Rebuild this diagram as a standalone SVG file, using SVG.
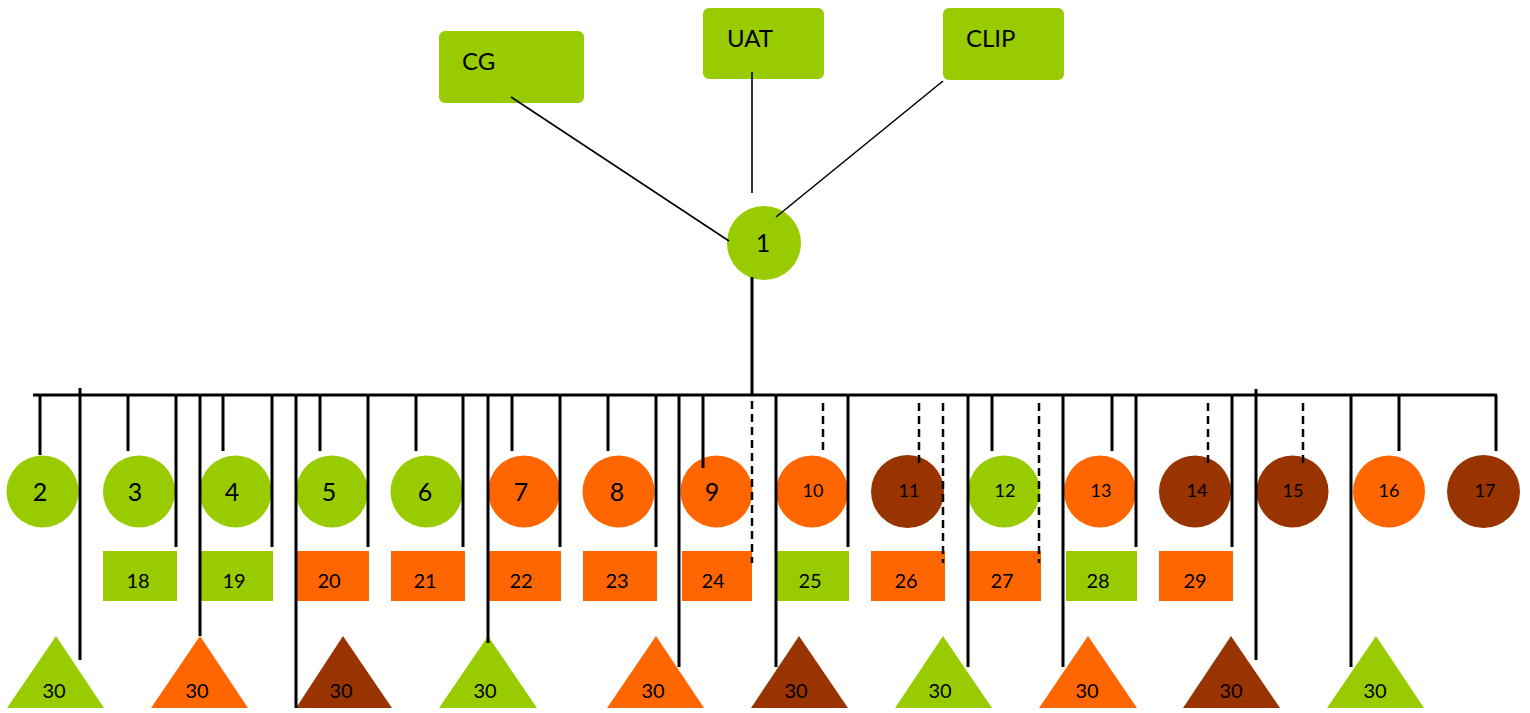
<svg xmlns="http://www.w3.org/2000/svg" width="1530" height="713" viewBox="0 0 1530 713">
<style>
.g{fill:#99CC00}.o{fill:#FF6600}.b{fill:#993300}
text{font-family:Lato,"Liberation Sans",sans-serif;fill:#000;text-anchor:middle}
.big{font-size:25px}.sm{font-size:18px}.rl{font-size:20px}.tl{font-size:20px}.hd{font-size:24px;text-anchor:start}
.c line{stroke:#000;stroke-width:3}
.c line.th{stroke-width:1.6}
.c line.d{stroke-width:2.5;stroke-dasharray:8 5}
</style>
<rect width="1530" height="713" fill="#fff"/>
<g id="n-cg"><rect class="g" x="439" y="31" width="145" height="72" rx="6"/><text class="hd" x="462" y="70">CG</text></g>
<g id="n-uat"><rect class="g" x="703" y="8" width="121" height="71" rx="6"/><text class="hd" x="727" y="47">UAT</text></g>
<g id="n-clip"><rect class="g" x="943" y="8" width="121" height="72" rx="6"/><text class="hd" x="966" y="47">CLIP</text></g>
<g id="n1"><circle class="g" cx="764" cy="243" r="37"/><text class="big" x="763" y="252">1</text></g>
<g id="n2"><circle class="g" cx="42.5" cy="491.5" r="36"/><text class="big" x="40" y="501">2</text></g>
<g id="n3"><circle class="g" cx="139" cy="491.5" r="36"/><text class="big" x="135" y="501">3</text></g>
<g id="n4"><circle class="g" cx="235.5" cy="491.5" r="36"/><text class="big" x="232" y="501">4</text></g>
<g id="n5"><circle class="g" cx="332" cy="491.5" r="36"/><text class="big" x="329" y="501">5</text></g>
<g id="n6"><circle class="g" cx="426.5" cy="491.5" r="36"/><text class="big" x="425" y="501">6</text></g>
<g id="n7"><circle class="o" cx="524" cy="491.5" r="36"/><text class="big" x="521" y="501">7</text></g>
<g id="n8"><circle class="o" cx="618.5" cy="491.5" r="36"/><text class="big" x="617" y="501">8</text></g>
<g id="n9"><circle class="o" cx="716.5" cy="491.5" r="36"/><text class="big" x="712" y="501">9</text></g>
<g id="n10"><circle class="o" cx="812" cy="491.5" r="36"/><text class="sm" x="813" y="497">10</text></g>
<g id="n11"><circle class="b" cx="907.5" cy="491.5" r="36.5"/><text class="sm" x="909" y="497">11</text></g>
<g id="n12"><circle class="g" cx="1004" cy="491.5" r="36"/><text class="sm" x="1005" y="497">12</text></g>
<g id="n13"><circle class="o" cx="1100" cy="491.5" r="36"/><text class="sm" x="1101" y="497">13</text></g>
<g id="n14"><circle class="b" cx="1195" cy="491.5" r="36"/><text class="sm" x="1197" y="497">14</text></g>
<g id="n15"><circle class="b" cx="1292.5" cy="491.5" r="36"/><text class="sm" x="1293" y="497">15</text></g>
<g id="n16"><circle class="o" cx="1389" cy="491.5" r="36"/><text class="sm" x="1389" y="497">16</text></g>
<g id="n17"><circle class="b" cx="1483.5" cy="491.5" r="36.5"/><text class="sm" x="1485" y="497">17</text></g>
<g id="n18"><rect class="g" x="103" y="551" width="74" height="50"/><text class="rl" x="138" y="588">18</text></g>
<g id="n19"><rect class="g" x="201" y="551" width="72" height="50"/><text class="rl" x="234" y="588">19</text></g>
<g id="n20"><rect class="o" x="297" y="551" width="72" height="50"/><text class="rl" x="329" y="588">20</text></g>
<g id="n21"><rect class="o" x="391" y="551" width="74" height="50"/><text class="rl" x="425" y="588">21</text></g>
<g id="n22"><rect class="o" x="489" y="551" width="72" height="50"/><text class="rl" x="521" y="588">22</text></g>
<g id="n23"><rect class="o" x="583" y="551" width="74" height="50"/><text class="rl" x="617" y="588">23</text></g>
<g id="n24"><rect class="o" x="682" y="551" width="70" height="50"/><text class="rl" x="713" y="588">24</text></g>
<g id="n25"><rect class="g" x="777" y="551" width="72" height="50"/><text class="rl" x="810" y="588">25</text></g>
<g id="n26"><rect class="o" x="871" y="551" width="74" height="50"/><text class="rl" x="906" y="588">26</text></g>
<g id="n27"><rect class="o" x="969" y="551" width="72" height="50"/><text class="rl" x="1002" y="588">27</text></g>
<g id="n28"><rect class="g" x="1066" y="551" width="71" height="50"/><text class="rl" x="1098" y="588">28</text></g>
<g id="n29"><rect class="o" x="1159" y="551" width="74" height="50"/><text class="rl" x="1195" y="588">29</text></g>
<g id="t1"><polygon class="g" points="56,636 104,708 7,708"/><text class="tl" x="54" y="698">30</text></g>
<g id="t2"><polygon class="o" points="200,636 248,708 151,708"/><text class="tl" x="197" y="698">30</text></g>
<g id="t3"><polygon class="b" points="343,636 392,708 296,708"/><text class="tl" x="341" y="698">30</text></g>
<g id="t4"><polygon class="g" points="488,636 537,708 439,708"/><text class="tl" x="485" y="698">30</text></g>
<g id="t5"><polygon class="o" points="656,636 704,708 607,708"/><text class="tl" x="653" y="698">30</text></g>
<g id="t6"><polygon class="b" points="799,636 848,708 751,708"/><text class="tl" x="796" y="698">30</text></g>
<g id="t7"><polygon class="g" points="943,636 992,708 895,708"/><text class="tl" x="940" y="698">30</text></g>
<g id="t8"><polygon class="o" points="1088,636 1137,708 1039,708"/><text class="tl" x="1087" y="698">30</text></g>
<g id="t9"><polygon class="b" points="1231,636 1280,708 1183,708"/><text class="tl" x="1231" y="698">30</text></g>
<g id="t10"><polygon class="g" points="1376,636 1424,708 1327,708"/><text class="tl" x="1375" y="698">30</text></g>
<g id="connectors" class="c">
<line class="th" x1="511" y1="97" x2="729" y2="241"/>
<line class="th" x1="752" y1="72" x2="752" y2="193"/>
<line class="th" x1="943" y1="81" x2="776" y2="217"/>
<line x1="752" y1="277" x2="752" y2="396"/>
<line x1="33" y1="395" x2="1497" y2="395"/>
<line x1="40" y1="395" x2="40" y2="455"/>
<line x1="128" y1="395" x2="128" y2="451"/>
<line x1="223" y1="395" x2="223" y2="451"/>
<line x1="320" y1="395" x2="320" y2="451"/>
<line x1="416" y1="395" x2="416" y2="451"/>
<line x1="512" y1="395" x2="512" y2="451"/>
<line x1="608" y1="395" x2="608" y2="451"/>
<line x1="703" y1="395" x2="703" y2="468"/>
<line x1="992" y1="395" x2="992" y2="451"/>
<line x1="1112" y1="395" x2="1112" y2="451"/>
<line x1="1399" y1="395" x2="1399" y2="451"/>
<line x1="1496" y1="395" x2="1496" y2="451"/>
<line x1="176" y1="395" x2="176" y2="547"/>
<line x1="272" y1="395" x2="272" y2="547"/>
<line x1="368" y1="395" x2="368" y2="547"/>
<line x1="463" y1="395" x2="463" y2="547"/>
<line x1="560" y1="395" x2="560" y2="547"/>
<line x1="656" y1="395" x2="656" y2="547"/>
<line x1="848" y1="395" x2="848" y2="547"/>
<line x1="1136" y1="395" x2="1136" y2="547"/>
<line x1="1232" y1="395" x2="1232" y2="547"/>
<line x1="80" y1="388" x2="80" y2="660"/>
<line x1="200" y1="395" x2="200" y2="636"/>
<line x1="296" y1="395" x2="296" y2="708"/>
<line x1="488" y1="395" x2="488" y2="643"/>
<line x1="679" y1="395" x2="679" y2="667"/>
<line x1="776" y1="395" x2="776" y2="667"/>
<line x1="968" y1="395" x2="968" y2="667"/>
<line x1="1063" y1="395" x2="1063" y2="667"/>
<line x1="1256" y1="389" x2="1256" y2="660"/>
<line x1="1351" y1="395" x2="1351" y2="667"/>
<line class="d" x1="752" y1="401" x2="752" y2="563"/>
<line class="d" x1="823" y1="403" x2="823" y2="451"/>
<line class="d" x1="919" y1="403" x2="919" y2="468"/>
<line class="d" x1="943" y1="403" x2="943" y2="563"/>
<line class="d" x1="1039" y1="403" x2="1039" y2="563"/>
<line class="d" x1="1208" y1="403" x2="1208" y2="468"/>
<line class="d" x1="1303" y1="403" x2="1303" y2="468"/>
</g>
</svg>
